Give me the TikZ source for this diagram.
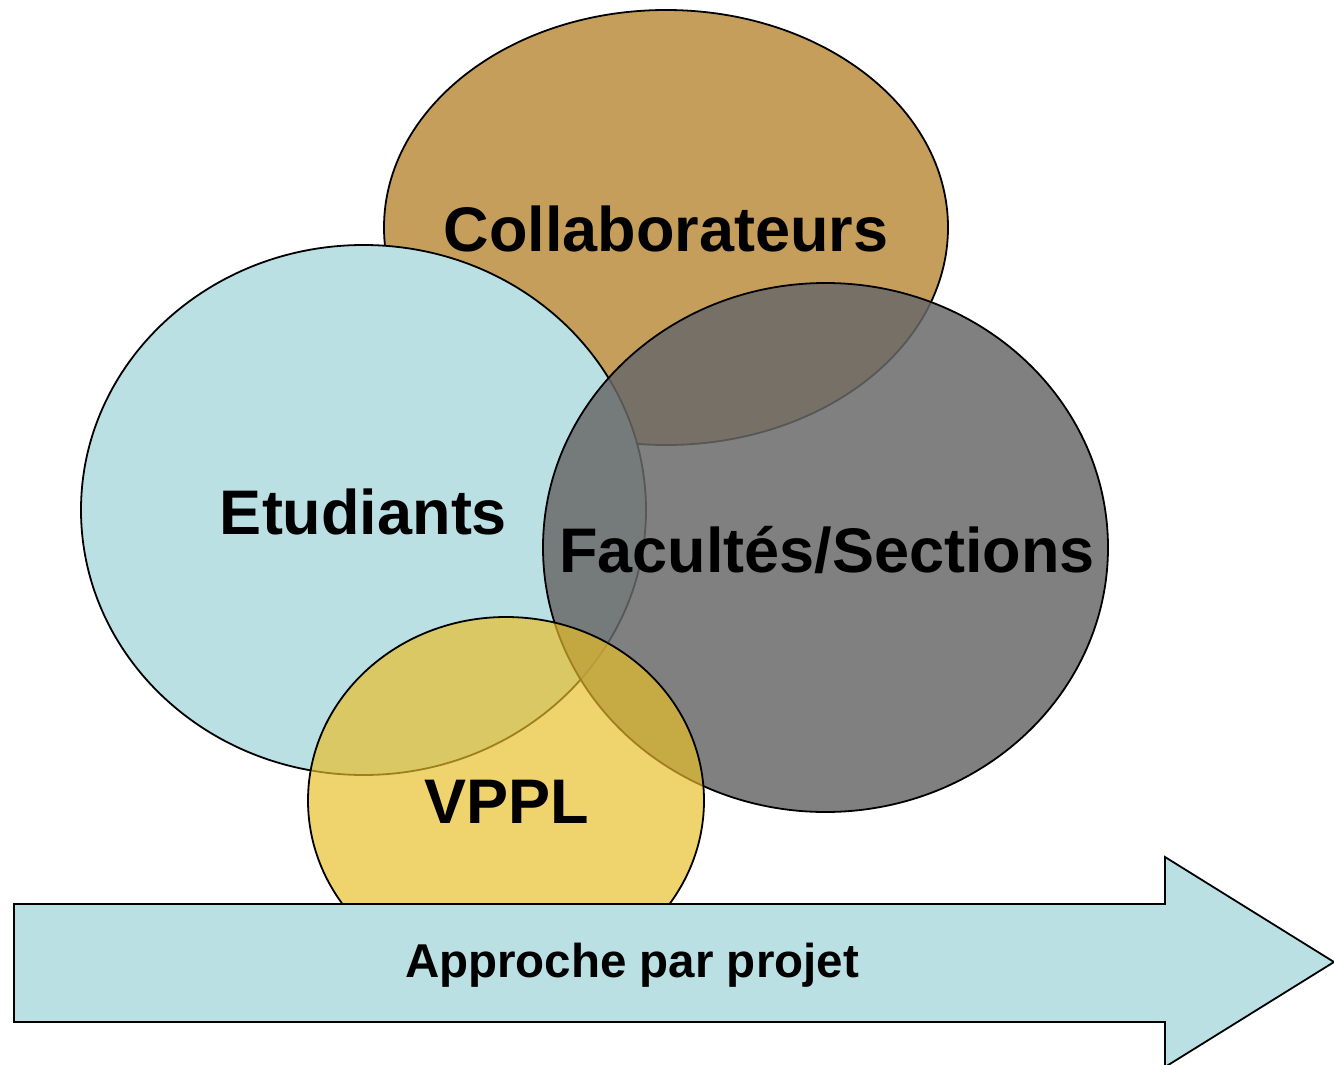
\documentclass[tikz,border=0pt]{standalone}
\usepackage{fontspec}
\setmainfont{Liberation Sans}
\usetikzlibrary{shapes.geometric}
\definecolor{collabc}{RGB}{198,158,92}
\definecolor{etudc}{RGB}{187,224,227}
\definecolor{facc}{RGB}{104,104,104}
\definecolor{vpplc}{RGB}{232,190,40}
\tikzset{
  blob/.style={ellipse, draw=black, line width=1.8pt, inner sep=0pt, outer sep=0pt},
  bigtxt/.style={font=\fontsize{63}{70}\selectfont\bfseries, text=black, inner sep=0pt},
}
\begin{document}
\begin{tikzpicture}[x=1pt,y=-1pt]
\useasboundingbox (0,0) rectangle (1334,1065);
\node[blob, fill=collabc, minimum width=564pt, minimum height=435pt] (collab) at (666,227.5) {};
\node[blob, fill=etudc, minimum width=565pt, minimum height=530pt] (etud) at (363.5,510) {};
\node[blob, fill=facc, fill opacity=0.84, minimum width=565pt, minimum height=529pt] (fac) at (825.5,547.5) {};
\node[blob, fill=vpplc, fill opacity=0.68, minimum width=396pt, minimum height=367pt] (vppl) at (506,800.5) {};
\node[bigtxt] (collabt) at (666,229) {Collaborateurs};
\node[bigtxt] (etudt) at (363.5,512) {Etudiants};
\node[bigtxt] (fact) at (827,550) {Facultés/Sections};
\node[bigtxt] (vpplt) at (507,802) {VPPL};
\draw[fill=etudc, line width=1.8pt, line join=miter]
  (14,904) -- (1165,904) -- (1165,857) -- (1334,962) -- (1165,1067) -- (1165,1022) -- (14,1022) -- cycle;
\node[font=\fontsize{47.5}{55}\selectfont\bfseries, inner sep=0pt] (apl) at (632,965) {Approche par projet};
\end{tikzpicture}
\end{document}
